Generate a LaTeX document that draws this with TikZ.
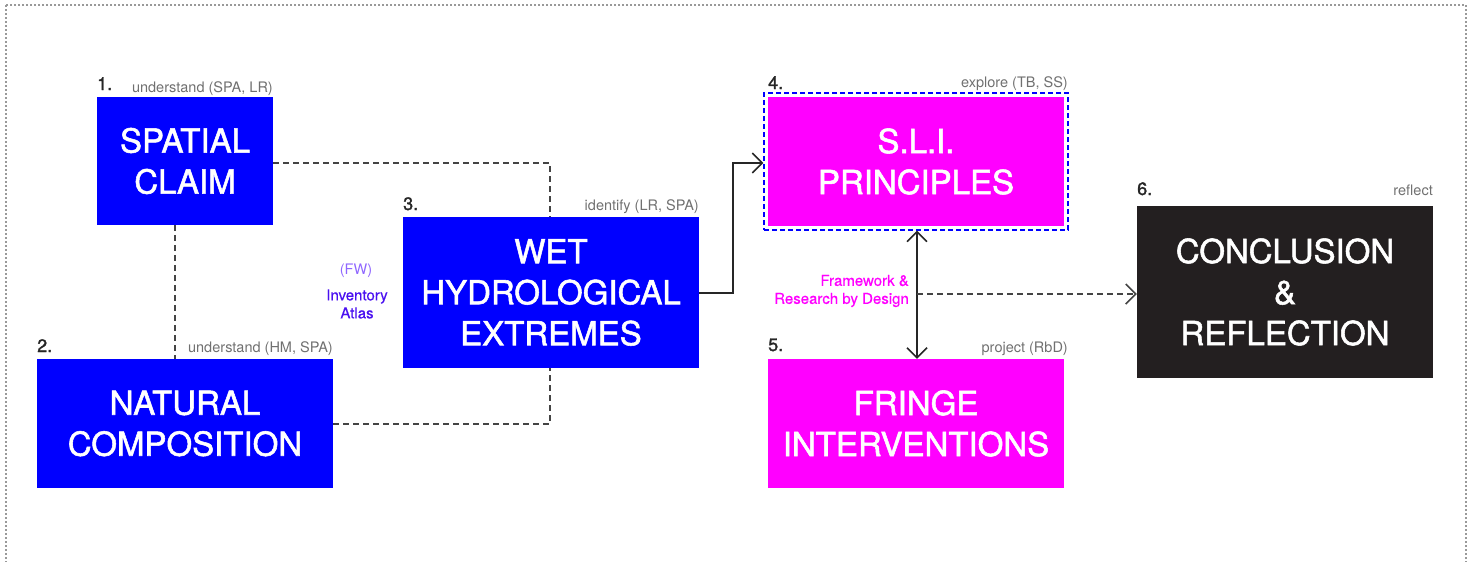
\documentclass[tikz,border=0pt]{standalone}
\usepackage{fontspec}
\setmainfont{TeX Gyre Heros}
\newfontfamily\medfont[FakeBold=1.6]{TeX Gyre Heros}
\newfontfamily\semifont[FakeBold=0.5]{TeX Gyre Heros}
\usetikzlibrary{arrows.meta,calc}
\definecolor{pblue}{HTML}{0000FF}
\definecolor{pmag}{HTML}{FF00FF}
\definecolor{pblack}{HTML}{231F20}
\definecolor{lgray}{HTML}{707070}
\definecolor{lineg}{HTML}{444444}
\definecolor{fwcol}{HTML}{8F66FF}
\definecolor{invcol}{HTML}{4A10F0}
\tikzset{
  bigbox/.style={draw=none, text=white, align=center, inner sep=0pt,
    font=\medfont\fontsize{33}{41}\selectfont},
  numlab/.style={anchor=base west, inner sep=0pt, text=black!85, font=\medfont\fontsize{18}{20}\selectfont},
  taglab/.style={anchor=base east, inner sep=0pt, text=lgray, font=\fontsize{14.5}{16}\selectfont},
  dashcon/.style={draw=lineg, line width=1.3pt, dash pattern=on 6pt off 4pt},
  solcon/.style={draw=black!85, line width=1.5pt},
  tip/.style={-{Straight Barb[length=10pt,width=20pt,line width=1.5pt]}},
  bitip/.style={{Straight Barb[length=10pt,width=20pt,line width=1.5pt]}-{Straight Barb[length=10pt,width=20pt,line width=1.5pt]}},
}
\begin{document}
\begin{tikzpicture}[x=1pt,y=-1pt]
\useasboundingbox (0,0) rectangle (1478,562);
\begin{scope}
\clip (0,0) rectangle (1478,562);
\draw[draw=gray!80, line width=1.2pt, dash pattern=on 2pt off 2pt] (6,5) rectangle (1466,600);
\end{scope}

% boxes
\node[bigbox, fill=pblue, minimum width=176pt, minimum height=128pt] (spatial) at (185,161) {SPATIAL\\CLAIM};
\node[bigbox, fill=pblue, minimum width=296pt, minimum height=129pt] (natural) at (185,423.5) {NATURAL\\COMPOSITION};
\node[bigbox, fill=pblue, minimum width=296pt, minimum height=151pt] (wet) at (551,292.5) {WET\\HYDROLOGICAL\\EXTREMES};
\node[bigbox, fill=pmag, minimum width=296pt, minimum height=129pt] (sli) at (916,161.5) {S.L.I.\\PRINCIPLES};
\node[draw=pblue, line width=1.3pt, dash pattern=on 5pt off 3pt, minimum width=304pt, minimum height=137pt, inner sep=0pt] (sliframe) at (916,161.5) {};
\node[bigbox, fill=pmag, minimum width=296pt, minimum height=129pt] (fringe) at (916,423.5) {FRINGE\\INTERVENTIONS};
\node[bigbox, fill=pblack, minimum width=296pt, minimum height=172pt] (concl) at (1285,292) {CONCLUSION\\\&\\REFLECTION};

% number labels
\node[numlab] (n1) at (97,90) {1.};
\node[taglab] (t1) at (273,92) {understand (SPA, LR)};
\node[numlab] (n2) at (37,352) {2.};
\node[taglab] (t2) at (333,352) {understand (HM, SPA)};
\node[numlab] (n3) at (403,210) {3.};
\node[taglab] (t3) at (699,210) {identify (LR, SPA)};
\node[numlab] (n4) at (768,89) {4.};
\node[taglab] (t4) at (1068,87) {explore (TB, SS)};
\node[numlab] (n5) at (768,351) {5.};
\node[taglab] (t5) at (1068,352) {project (RbD)};
\node[numlab] (n6) at (1137,195) {6.};
\node[taglab] (t6) at (1433,195) {reflect};

% side labels
\node[text=fwcol, font=\fontsize{14.5}{16}\selectfont, inner sep=0pt] (fw) at (356,271) {(FW)};
\node[text=invcol, font=\semifont\fontsize{15}{18}\selectfont, align=center, inner sep=0pt] (inv) at (357,304) {Inventory\\Atlas};
\node[text=pmag, font=\semifont\fontsize{15}{18}\selectfont, align=right, inner sep=0pt, anchor=east] (frm) at (909,291) {Framework \&\\Research by Design};

% connectors
\coordinate (wetTop) at (550,217);
\coordinate (wetBot) at (550,368);
\draw[dashcon] (spatial.east |- 0,163) -| (wetTop);
\draw[dashcon] (natural.east |- 0,424) -| (wetBot);
\draw[dashcon] (spatial.south -| 175,0) -- (natural.north -| 175,0);
\coordinate (bend) at (733,293);
\draw[solcon, tip] (wet.east |- bend) -- (bend) |- (sliframe.west |- 0,163);
\draw[solcon, bitip] (sliframe.south -| 917,0) -- (fringe.north -| 917,0);
\coordinate (split) at (917,294);
\draw[dashcon, tip, line width=1.3pt] (split) -- (concl.west |- split);
\end{tikzpicture}
\end{document}
